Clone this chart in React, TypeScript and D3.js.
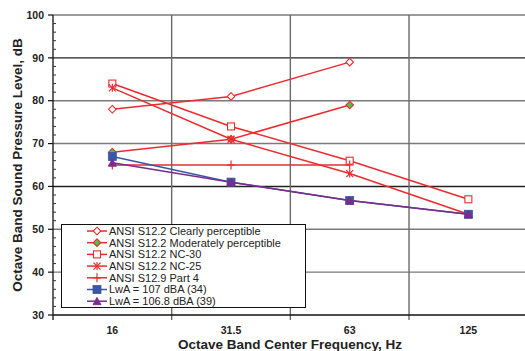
import React from "react";
import * as d3 from "d3";

// Octave band centre frequencies (Hz)
const bands = ["16", "31.5", "63", "125"];

// Criteria curves (dB)
const clearlyPerceptible = [78, 81, 89];
const moderatelyPerceptible = [68, 71, 79];
const nc30 = [84, 74, 66, 57];
const nc25 = [83, 71, 63, 53.5];
const s129Part4 = [65, 65, 65];

// Measured spectra (dB)
const lwa107 = [67, 61, 56.7, 53.5];
const lwa1068 = [65.5, 61, 56.7, 53.5];

const seriesNames = [
  "ANSI S12.2 Clearly perceptible",
  "ANSI S12.2 Moderately perceptible",
  "ANSI S12.2 NC-30",
  "ANSI S12.2 NC-25",
  "ANSI S12.9 Part 4",
  "LwA = 107 dBA (34)",
  "LwA = 106.8 dBA (39)",
];

const yTicks = [30, 40, 50, 60, 70, 80, 90, 100];

const RED = "#ee2a2e";
const GREEN = "#5fb84a";
const BLUE = "#3a56a6";
const PURPLE = "#7a2c8c";
const FONT = "'Liberation Sans', Arial, Helvetica, sans-serif";

type Marker = "diamondOpen" | "diamondGreen" | "squareOpen" | "asterisk" | "plus" | "squareBlue" | "triangle";

const series: { name: string; values: number[]; color: string; marker: Marker }[] = [
  { name: seriesNames[0], values: clearlyPerceptible, color: RED, marker: "diamondOpen" },
  { name: seriesNames[1], values: moderatelyPerceptible, color: RED, marker: "diamondGreen" },
  { name: seriesNames[2], values: nc30, color: RED, marker: "squareOpen" },
  { name: seriesNames[3], values: nc25, color: RED, marker: "asterisk" },
  { name: seriesNames[4], values: s129Part4, color: RED, marker: "plus" },
  { name: seriesNames[5], values: lwa107, color: BLUE, marker: "squareBlue" },
  { name: seriesNames[6], values: lwa1068, color: PURPLE, marker: "triangle" },
];

function MarkerShape({ kind, x, y, color }: { kind: Marker; x: number; y: number; color: string }) {
  switch (kind) {
    case "diamondOpen":
      return <path d={`M${x},${y - 3.8}L${x + 3.8},${y}L${x},${y + 3.8}L${x - 3.8},${y}Z`} fill="white" stroke={color} strokeWidth={1.1} />;
    case "diamondGreen":
      return <path d={`M${x},${y - 3.8}L${x + 3.8},${y}L${x},${y + 3.8}L${x - 3.8},${y}Z`} fill={GREEN} stroke={color} strokeWidth={1.1} />;
    case "squareOpen":
      return <rect x={x - 3.5} y={y - 3.5} width={7} height={7} fill="white" stroke={color} strokeWidth={1.1} />;
    case "asterisk":
      return (
        <g stroke={color} strokeWidth={1.2}>
          <line x1={x - 3.5} y1={y - 3.5} x2={x + 3.5} y2={y + 3.5} />
          <line x1={x - 3.5} y1={y + 3.5} x2={x + 3.5} y2={y - 3.5} />
          <line x1={x} y1={y - 4} x2={x} y2={y + 4} />
        </g>
      );
    case "plus":
      return (
        <g stroke={color} strokeWidth={1.2}>
          <line x1={x - 4} y1={y} x2={x + 4} y2={y} />
          <line x1={x} y1={y - 4.5} x2={x} y2={y + 4.5} />
        </g>
      );
    case "squareBlue":
      return <rect x={x - 4} y={y - 4} width={8} height={8} fill={BLUE} stroke={BLUE} strokeWidth={0.8} />;
    case "triangle":
      return <path d={`M${x},${y - 4}L${x + 4},${y + 3.5}L${x - 4},${y + 3.5}Z`} fill={PURPLE} stroke={PURPLE} strokeWidth={0.8} />;
  }
}

export default function App() {
  const W = 525;
  const H = 351;
  const left = 53;
  const right = 527.7;
  const top = 15;
  const bottom = 315;

  const x = d3.scaleBand<string>().domain(bands).range([left, right]).padding(0);
  const y = d3.scaleLinear().domain([30, 100]).range([bottom, top]);
  const cx = (b: string) => (x(b) as number) + x.bandwidth() / 2;

  const line = d3
    .line<number>()
    .x((_, i) => cx(bands[i]))
    .y((v) => y(v));

  const boundaries = bands.map((b) => x(b) as number).concat([right]);
  const minor = d3.range(32, 100, 2).filter((v) => v % 10 !== 0);

  const legX = 61.5;
  const legY = 224.5;
  const legW = 244;
  const legH = 83;
  const rowH = 11.7;

  return (
    <svg width={W} height={H} style={{ position: "absolute", left: 0, top: 0, background: "white" }} fontFamily={FONT}>
      <rect x={0} y={0} width={W} height={H} fill="white" />
      {/* horizontal gridlines */}
      {yTicks.filter((v) => v > 30).map((v) => (
        <line key={v} x1={left} x2={right} y1={y(v)} y2={y(v)} stroke={v === 90 || v === 60 ? "#222" : "#7a7a7a"} strokeWidth={1.4} />
      ))}
      {/* vertical gridlines between bands */}
      {boundaries.slice(1).map((b, i) => (
        <line key={i} x1={b} x2={b} y1={top} y2={bottom + 5} stroke="#6a6a6a" strokeWidth={1.4} />
      ))}
      {/* axes */}
      <line x1={left} x2={left} y1={top} y2={bottom} stroke="#111" strokeWidth={1.3} />
      <line x1={left} x2={right} y1={bottom} y2={bottom} stroke="#111" strokeWidth={1.3} />
      <line x1={left} x2={left} y1={bottom} y2={bottom + 5} stroke="#111" strokeWidth={1.3} />
      {yTicks.map((v) => (
        <g key={v}>
          <line x1={left - 5} x2={left} y1={y(v)} y2={y(v)} stroke="#111" strokeWidth={1.2} />
          <text x={44} y={y(v)} dy="0.35em" textAnchor="end" fontSize={10.5} fontWeight="bold" fill="#222">
            {v}
          </text>
        </g>
      ))}
      {minor.map((v) => (
        <line key={v} x1={left} x2={left + 3} y1={y(v)} y2={y(v)} stroke="#333" strokeWidth={1} />
      ))}
      {bands.map((b) => (
        <text key={b} x={cx(b)} y={334} textAnchor="middle" fontSize={10.5} fontWeight="bold" fill="#222">
          {b}
        </text>
      ))}
      <text x={290} y={348.5} textAnchor="middle" fontSize={13.5} fontWeight="bold" fill="#222">
        Octave Band Center Frequency, Hz
      </text>
      <text transform={`translate(22,165) rotate(-90)`} textAnchor="middle" fontSize={13.5} fontWeight="bold" fill="#222">
        Octave Band Sound Pressure Level, dB
      </text>

      {/* series */}
      {series.map((s) => (
        <g key={s.name}>
          <path d={line(s.values) as string} fill="none" stroke={s.color} strokeWidth={1.5} />
          {s.values.map((v, i) => (
            <MarkerShape key={i} kind={s.marker} x={cx(bands[i])} y={y(v)} color={s.color} />
          ))}
        </g>
      ))}

      {/* legend */}
      <rect x={legX} y={legY} width={legW} height={legH} fill="white" stroke="#111" strokeWidth={1} />
      {series.map((s, i) => {
        const ry = 231 + i * rowH;
        return (
          <g key={s.name}>
            <line x1={87} x2={107} y1={ry} y2={ry} stroke={s.color} strokeWidth={1.5} />
            <MarkerShape kind={s.marker} x={97} y={ry} color={s.color} />
            <text x={109} y={ry} dy="0.36em" fontSize={11} fill="#222">
              {s.name}
            </text>
          </g>
        );
      })}
    </svg>
  );
}
